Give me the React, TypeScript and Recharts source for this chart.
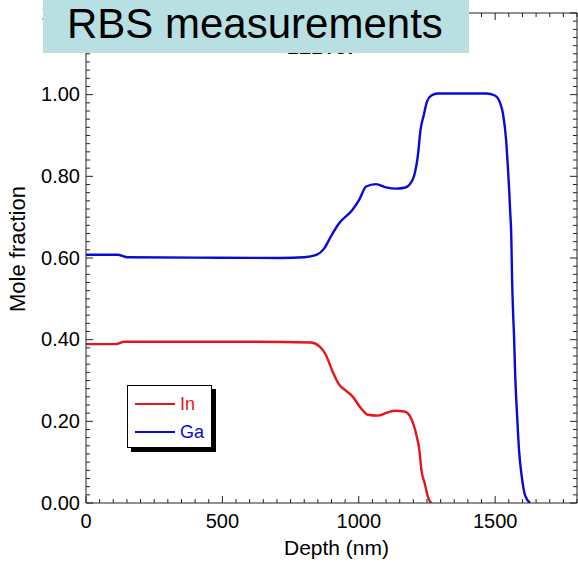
import React from 'react';
import { LineChart, Line, XAxis, YAxis, Legend } from 'recharts';

const inDepth = [0, 110, 140, 300, 600, 824, 855, 879, 904, 928, 955, 977, 1008, 1033, 1069, 1106, 1131, 1168, 1192, 1211, 1223, 1229, 1242, 1254, 1266];
const inFraction = [0.389, 0.389, 0.395, 0.395, 0.395, 0.393, 0.384, 0.363, 0.322, 0.29, 0.274, 0.261, 0.232, 0.216, 0.214, 0.222, 0.226, 0.224, 0.207, 0.167, 0.125, 0.084, 0.047, 0.014, 0];

const gaDepth = [0, 115, 150, 400, 713, 800, 842, 873, 897, 928, 977, 1002, 1027, 1063, 1100, 1137, 1167, 1185, 1204, 1217, 1226, 1239, 1250, 1266, 1290, 1468, 1499, 1518, 1529, 1540, 1546, 1551, 1555, 1559, 1562, 1566, 1569, 1573, 1581, 1588, 1597, 1610, 1628];
const gaFraction = [0.608, 0.608, 0.602, 0.601, 0.6, 0.602, 0.607, 0.623, 0.652, 0.685, 0.718, 0.743, 0.775, 0.781, 0.773, 0.77, 0.772, 0.779, 0.804, 0.853, 0.912, 0.952, 0.983, 0.998, 1.003, 1.003, 0.998, 0.98, 0.952, 0.89, 0.829, 0.771, 0.714, 0.656, 0.55, 0.46, 0.413, 0.322, 0.207, 0.125, 0.067, 0.018, 0];

const seriesNames = ['In', 'Ga'];
const seriesColors = ['#e6141c', '#0a0ad8'];

const xMajorTicks = [0, 500, 1000, 1500];
const yMajorTicks = [0, 0.2, 0.4, 0.6, 0.8, 1.0, 1.2];
const xDomain = [0, 1800];
const yDomain = [0, 1.2];
const xMinorStep = 50;
const yMinorStepPct = 2;

const banner = 'RBS measurements';
const plotTitle = 'LEB787';
const xTitle = 'Depth (nm)';
const yTitle = 'Mole fraction';

const xTicksAll: number[] = [];
for (let v = xDomain[0]; v <= xDomain[1]; v += xMinorStep) xTicksAll.push(v);
const yTicksAll: number[] = [];
for (let p = 0; p <= 120; p += yMinorStepPct) yTicksAll.push(Math.round(p) / 100);

const inData = inDepth.map((d, i) => ({ depth: d, value: inFraction[i] }));
const gaData = gaDepth.map((d, i) => ({ depth: d, value: gaFraction[i] }));

const FONT = '"Liberation Sans", Arial, sans-serif';
const AXIS = '#222';

const isXMajor = (v: number) => xMajorTicks.includes(v);
const isYMajor = (v: number) => yMajorTicks.some((m) => Math.abs(m - v) < 1e-6);

const BottomTick = (props: any) => {
  const { x, y, payload } = props;
  const major = isXMajor(payload.value);
  return (
    <g>
      <line x1={x} x2={x} y1={y} y2={y - (major ? 7 : 4)} stroke={AXIS} strokeWidth={1} />
      {major && (
        <text x={x} y={y + 25} textAnchor="middle" fontSize={20} fontFamily={FONT} fill="#000">
          {payload.value}
        </text>
      )}
    </g>
  );
};

const TopTick = (props: any) => {
  const { x, y, payload } = props;
  const major = isXMajor(payload.value);
  return <line x1={x} x2={x} y1={y} y2={y + (major ? 7 : 4)} stroke={AXIS} strokeWidth={1} />;
};

const LeftTick = (props: any) => {
  const { x, y, payload } = props;
  const major = isYMajor(payload.value);
  return (
    <g>
      <line x1={x} x2={x + (major ? 7 : 4)} y1={y} y2={y} stroke={AXIS} strokeWidth={1} />
      {major && (
        <text x={x - 6} y={y} dy="0.33em" textAnchor="end" fontSize={20} fontFamily={FONT} fill="#000">
          {Number(payload.value).toFixed(2)}
        </text>
      )}
    </g>
  );
};

const RightTick = (props: any) => {
  const { x, y, payload } = props;
  const major = isYMajor(payload.value);
  return <line x1={x} x2={x - (major ? 7 : 4)} y1={y} y2={y} stroke={AXIS} strokeWidth={1} />;
};

const YTitle = (props: any) => {
  const vb = props.viewBox || { y: 13, height: 490 };
  const cx = 25;
  const cy = vb.y + vb.height / 2 - 9;
  return (
    <text x={cx} y={cy} transform={`rotate(-90, ${cx}, ${cy})`} textAnchor="middle" fontSize={22} fontFamily={FONT} fill="#000">
      {yTitle}
    </text>
  );
};

const XTitle = (props: any) => {
  const vb = props.viewBox || { x: 86, width: 491 };
  return (
    <text x={vb.x + vb.width / 2 + 5} y={555} textAnchor="middle" fontSize={21} fontFamily={FONT} fill="#000">
      {xTitle}
    </text>
  );
};

const LegendBox = (props: any) => {
  const payload = (props.payload || [])
    .filter((p: any) => seriesNames.includes(p.value))
    .sort((a: any, b: any) => seriesNames.indexOf(a.value) - seriesNames.indexOf(b.value));
  return (
    <div
      style={{
        position: 'relative',
        width: 85,
        height: 63,
        boxSizing: 'border-box',
        border: '1px solid #000',
        background: '#fff',
        boxShadow: '4px 4px 0 #000',
        fontFamily: FONT,
      }}
    >
      {payload.map((p: any, i: number) => (
        <div key={p.value} style={{ position: 'absolute', left: 7, top: 8 + i * 28, height: 20, display: 'flex', alignItems: 'center' }}>
          <div style={{ width: 40, height: 2, background: p.color }} />
          <span style={{ marginLeft: 5, fontSize: 18, color: p.color, lineHeight: '20px' }}>{p.value}</span>
        </div>
      ))}
    </div>
  );
};

export default function App() {
  return (
    <div style={{ position: 'absolute', left: 0, top: 0, width: 578, height: 562, background: '#fff' }}>
      <div
        style={{
          position: 'absolute',
          left: 287,
          top: 38,
          fontSize: 19,
          fontWeight: 'bold',
          fontFamily: FONT,
          lineHeight: 1,
          color: '#000',
        }}
      >
        {plotTitle}
      </div>
      <LineChart width={578} height={562} margin={{ top: 12, right: 0, bottom: 0, left: 0 }}>
        <XAxis
          xAxisId="bottom"
          type="number"
          dataKey="depth"
          domain={xDomain}
          ticks={xTicksAll}
          interval={0}
          orientation="bottom"
          height={59}
          tickSize={0}
          tickMargin={0}
          tickLine={false}
          tick={<BottomTick />}
          axisLine={{ stroke: AXIS, strokeWidth: 1 }}
          allowDataOverflow
          label={<XTitle />}
        />
        <XAxis
          xAxisId="top"
          type="number"
          dataKey="depth"
          domain={xDomain}
          ticks={xTicksAll}
          interval={0}
          orientation="top"
          height={1}
          tickSize={0}
          tickMargin={0}
          tickLine={false}
          tick={<TopTick />}
          axisLine={{ stroke: AXIS, strokeWidth: 1 }}
          allowDataOverflow
        />
        <YAxis
          yAxisId="left"
          type="number"
          dataKey="value"
          domain={yDomain}
          ticks={yTicksAll}
          interval={0}
          orientation="left"
          width={86}
          tickSize={0}
          tickMargin={0}
          tickLine={false}
          tick={<LeftTick />}
          axisLine={{ stroke: AXIS, strokeWidth: 1 }}
          allowDataOverflow
          label={<YTitle />}
        />
        <YAxis
          yAxisId="right"
          type="number"
          dataKey="value"
          domain={yDomain}
          ticks={yTicksAll}
          interval={0}
          orientation="right"
          width={1}
          tickSize={0}
          tickMargin={0}
          tickLine={false}
          tick={<RightTick />}
          axisLine={{ stroke: AXIS, strokeWidth: 1 }}
          allowDataOverflow
        />
        <Line
          xAxisId="bottom"
          yAxisId="left"
          data={inData}
          dataKey="value"
          name={seriesNames[0]}
          stroke={seriesColors[0]}
          strokeWidth={2.4}
          type="monotone"
          dot={false}
          isAnimationActive={false}
        />
        <Line
          xAxisId="bottom"
          yAxisId="left"
          data={gaData}
          dataKey="value"
          name={seriesNames[1]}
          stroke={seriesColors[1]}
          strokeWidth={2.4}
          type="monotone"
          dot={false}
          isAnimationActive={false}
        />
        <Line
          xAxisId="top"
          yAxisId="right"
          data={gaData}
          dataKey="value"
          stroke="none"
          dot={false}
          legendType="none"
          isAnimationActive={false}
        />
        <Legend
          layout="vertical"
          align="center"
          verticalAlign="middle"
          content={<LegendBox />}
          wrapperStyle={{ left: 127, top: 385, width: 'auto', height: 'auto' }}
        />
      </LineChart>
      <div
        style={{
          position: 'absolute',
          left: 43,
          top: 0,
          width: 426,
          height: 53,
          background: '#b8dfe2',
        }}
      >
        <span
          style={{
            position: 'absolute',
            left: 24,
            top: 0,
            fontSize: 42,
            fontFamily: FONT,
            lineHeight: '47px',
            color: '#000',
            whiteSpace: 'nowrap',
          }}
        >
          {banner}
        </span>
      </div>
    </div>
  );
}
